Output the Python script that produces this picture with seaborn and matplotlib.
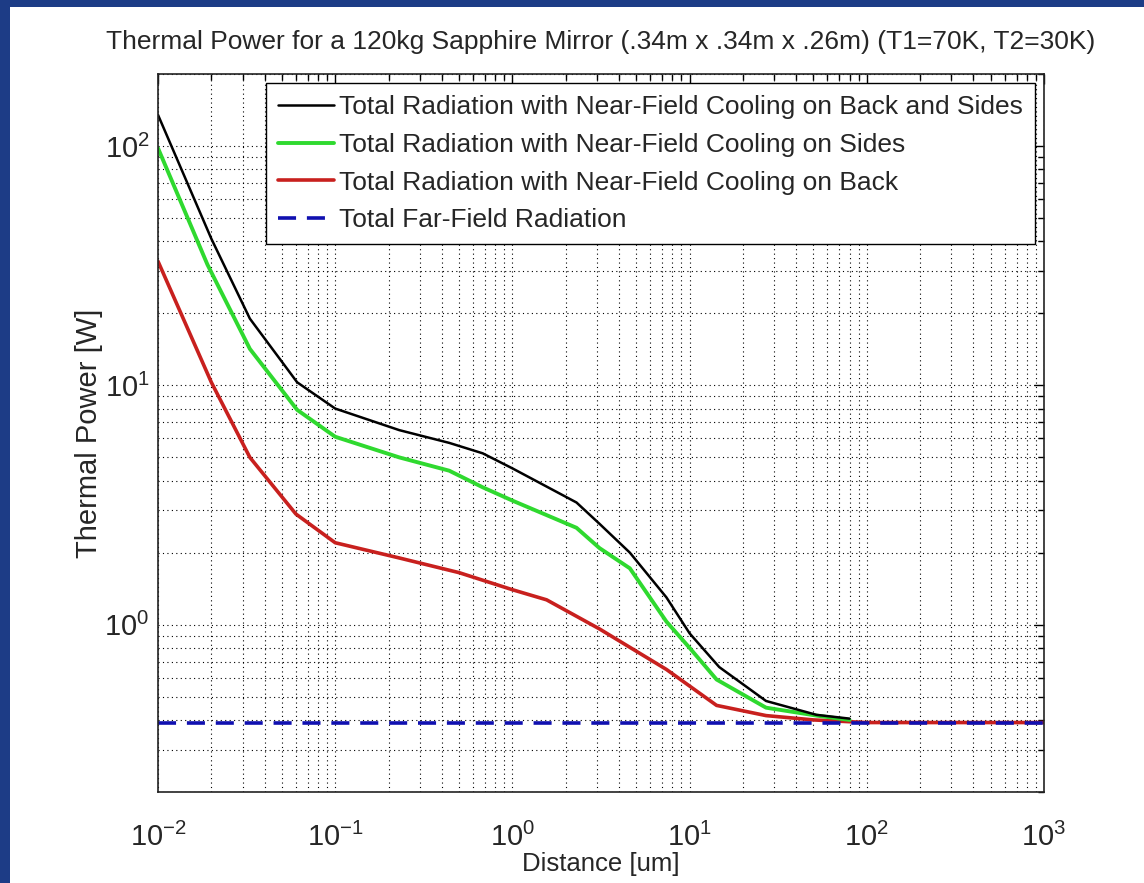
import numpy as np
import pandas as pd
import matplotlib
matplotlib.use("Agg")
import matplotlib.pyplot as plt
from matplotlib.patches import Rectangle
from matplotlib.ticker import LogLocator, NullFormatter
import seaborn as sns

# distances [um] and thermal power [W]
x_both = [0.01, 0.02, 0.033, 0.061, 0.1, 0.23, 0.44, 0.68, 1.0, 2.3, 3.1, 4.6, 7.4, 10, 14.7, 27, 52, 80]
p_both = [135, 41, 19, 10.3, 8.0, 6.5, 5.75, 5.2, 4.5, 3.24, 2.64, 2.0, 1.3, 0.92, 0.665, 0.48, 0.42, 0.405]

x_sides = [0.01, 0.019, 0.033, 0.061, 0.1, 0.23, 0.44, 0.68, 1.0, 2.3, 3.1, 4.6, 7.4, 10, 14.2, 27, 52, 80]
p_sides = [98, 32, 14.2, 7.9, 6.1, 5.0, 4.4, 3.75, 3.3, 2.54, 2.09, 1.72, 1.03, 0.8, 0.59, 0.45, 0.417, 0.40]

x_back = [0.01, 0.02, 0.033, 0.06, 0.1, 0.23, 0.5, 1.0, 1.56, 3.1, 7.4, 14.2, 27, 50, 100, 1000]
p_back = [33, 10.3, 5.0, 2.9, 2.2, 1.9, 1.65, 1.4, 1.27, 0.96, 0.65, 0.46, 0.417, 0.40, 0.39, 0.39]

x_far = [0.01, 1000]
p_far = [0.39, 0.39]

labels = [
    "Total Radiation with Near-Field Cooling on Back and Sides",
    "Total Radiation with Near-Field Cooling on Sides",
    "Total Radiation with Near-Field Cooling on Back",
    "Total Far-Field Radiation",
]

sns.set_style("white")
plt.rcParams["font.family"] = ["Liberation Sans", "DejaVu Sans"]
plt.rcParams["mathtext.fontset"] = "custom"
plt.rcParams["mathtext.rm"] = "Liberation Sans"

fig = plt.figure(figsize=(11.44, 8.83), dpi=100)
fig.patch.set_facecolor("#1d3c86")
fig.patches.append(Rectangle((10 / 1144, 0), 1, 1 - 7 / 883, transform=fig.transFigure,
                             facecolor="white", edgecolor="none", zorder=-5))

ax = fig.add_axes([0.1381, 0.1031, 0.7745, 0.8131])

sns.lineplot(x=x_back, y=p_back, ax=ax, color="#c8201e", linewidth=2.6, label=labels[2],
             estimator=None, sort=False)
sns.lineplot(x=x_sides, y=p_sides, ax=ax, color="#2fd92f", linewidth=2.8, label=labels[1],
             estimator=None, sort=False)
sns.lineplot(x=x_both, y=p_both, ax=ax, color="black", linewidth=1.8, label=labels[0],
             estimator=None, sort=False)
sns.lineplot(x=x_far, y=p_far, ax=ax, color="#1010b0", linewidth=2.6, linestyle=(0, (5, 3)),
             label=labels[3], estimator=None, sort=False)

ax.set_xscale("log")
ax.set_yscale("log")
ax.set_xlim(0.01, 1000)
ax.set_ylim(0.2, 200)

ax.xaxis.set_major_locator(LogLocator(base=10, numticks=10))
ax.xaxis.set_minor_locator(LogLocator(base=10, subs=np.arange(2, 10), numticks=100))
ax.yaxis.set_major_locator(LogLocator(base=10, numticks=10))
ax.yaxis.set_minor_locator(LogLocator(base=10, subs=np.arange(2, 10), numticks=100))
ax.xaxis.set_minor_formatter(NullFormatter())
ax.yaxis.set_minor_formatter(NullFormatter())

ax.grid(True, which="both", color="black", linestyle=(0, (1, 3)), linewidth=0.8)
ax.tick_params(which="both", direction="in", top=True, right=True, color="black")
ax.tick_params(which="major", length=7, width=1, labelsize=21)
ax.tick_params(which="minor", length=4, width=1)
ax.tick_params(axis="x", pad=22)
ax.tick_params(axis="y", pad=6)
for s in ax.spines.values():
    s.set_color("#222222")
    s.set_linewidth(1.2)

ax.set_xlabel("Distance [um]", fontsize=18.5, labelpad=0)
ax.set_ylabel("Thermal Power [W]", fontsize=21, labelpad=1)
ax.set_title("Thermal Power for a 120kg Sapphire Mirror (.34m x .34m x .26m) (T1=70K, T2=30K)",
             fontsize=19, pad=18)

handles, labs = ax.get_legend_handles_labels()
order = [labs.index(l) for l in labels]
leg = ax.legend([handles[i] for i in order], [labs[i] for i in order], loc="upper right",
                fontsize=19, handlelength=2.1, handletextpad=0.2, borderaxespad=0.35,
                borderpad=0.45, labelspacing=0.52, frameon=True, fancybox=False, framealpha=1)
leg.get_frame().set_edgecolor("black")
leg.get_frame().set_linewidth(1.0)

fig.savefig("out.png", dpi=100, facecolor=fig.get_facecolor())
